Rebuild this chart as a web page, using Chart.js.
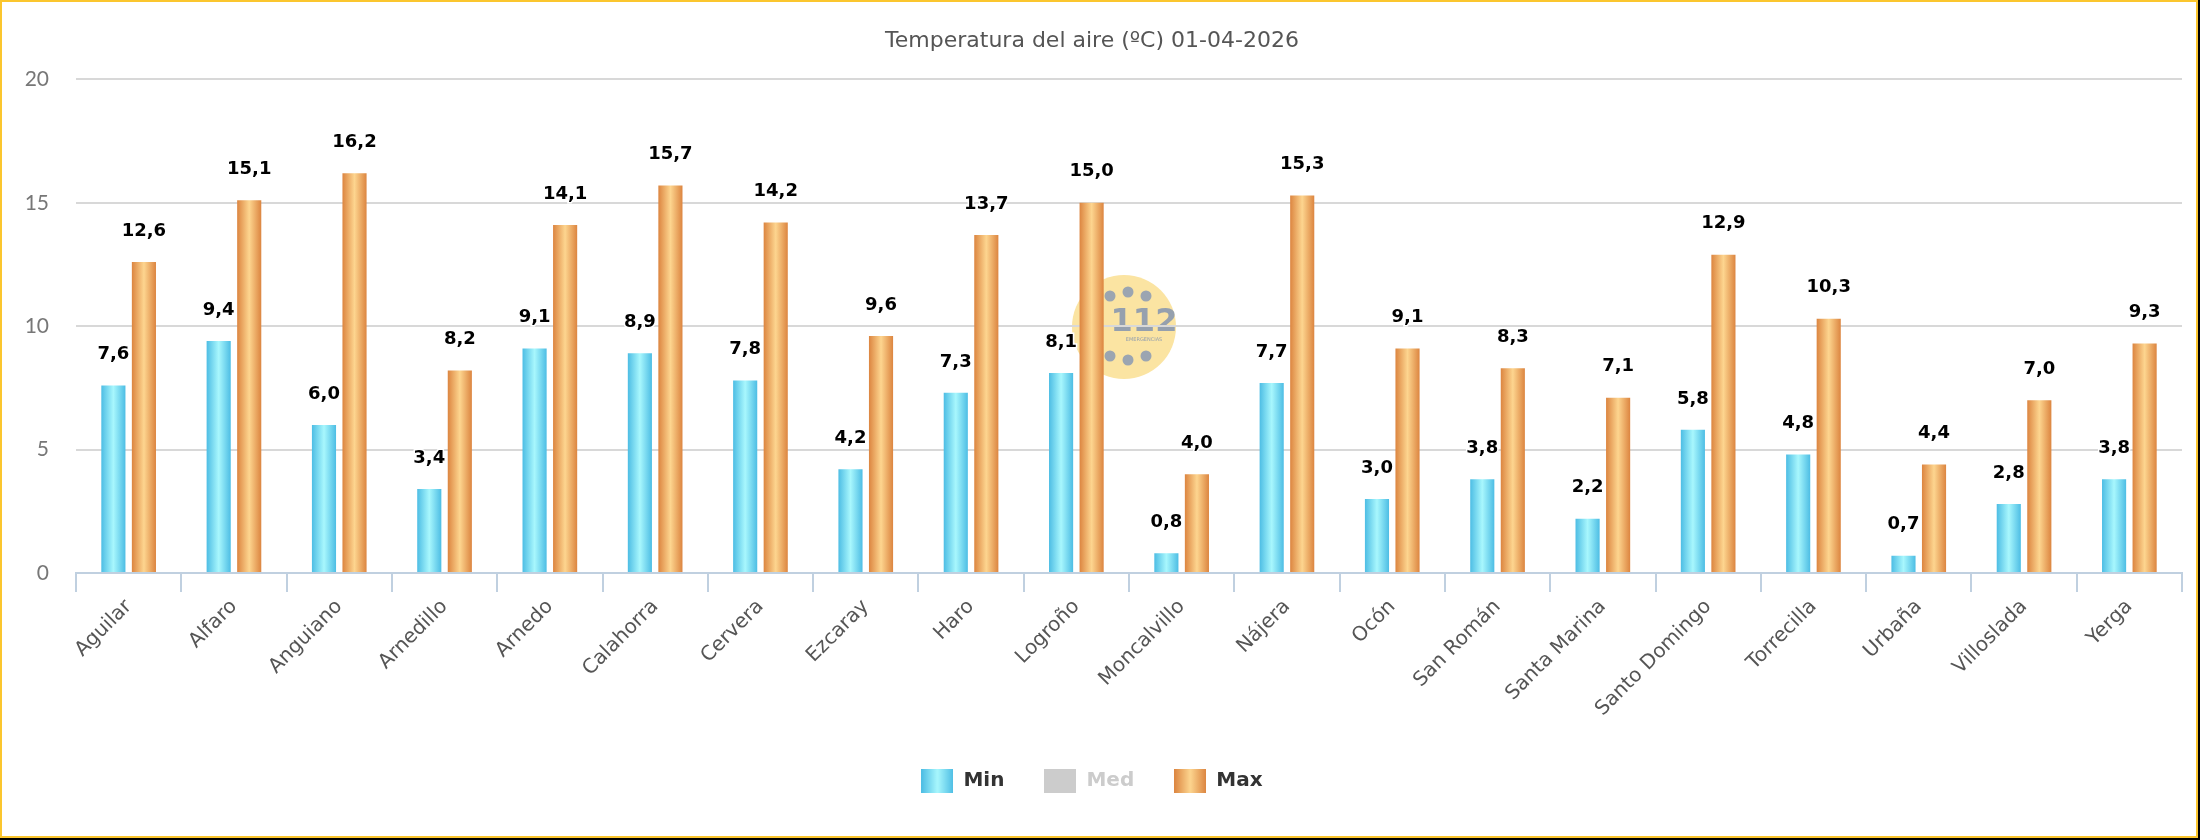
<!DOCTYPE html>
<html>
<head>
<meta charset="utf-8">
<script src="https://cdn.jsdelivr.net/npm/chart.js@4.4.1/dist/chart.umd.min.js"></script>
<style>
  html, body { margin: 0; padding: 0; background: #000; }
  #marco { position: absolute; left: 0; top: 0; width: 2198px; height: 838px; box-sizing: border-box; border: 2px solid #fbc62e; background: #fff; }
  #grafico { display: block; }
</style>
</head>
<body>
<div id="marco"><canvas id="grafico" width="2194" height="834"></canvas></div>
<script>
// DATOS
const estaciones = ["Aguilar", "Alfaro", "Anguiano", "Arnedillo", "Arnedo", "Calahorra", "Cervera", "Ezcaray", "Haro", "Logroño",
    "Moncalvillo", "Nájera", "Ocón", "San Román", "Santa Marina", "Santo Domingo", "Torrecilla", "Urbaña", "Villoslada", "Yerga"];
const tempMin = [7.6, 9.4, 6.0, 3.4, 9.1, 8.9, 7.8, 4.2, 7.3, 8.1, 0.8, 7.7, 3.0, 3.8, 2.2, 5.8, 4.8, 0.7, 2.8, 3.8];
const tempMed = []; // serie oculta en el original, sin valores visibles
const tempMax = [12.6, 15.1, 16.2, 8.2, 14.1, 15.7, 14.2, 9.6, 13.7, 15.0, 4.0, 15.3, 9.1, 8.3, 7.1, 12.9, 10.3, 4.4, 7.0, 9.3];
const ticksY = [0, 5, 10, 15, 20];

function degradado(ctx, x0, x1, borde, centro) {
    const g = ctx.createLinearGradient(x0, 0, x1, 0);
    g.addColorStop(0, borde);
    g.addColorStop(0.5, centro);
    g.addColorStop(1, borde);
    return g;
}

// muestra de la leyenda (canvas pequeño)
function muestra(borde, centro) {
    const c = document.createElement("canvas");
    c.width = 32;
    c.height = 24;
    const cx = c.getContext("2d");
    cx.fillStyle = centro ? degradado(cx, 0, 32, borde, centro) : borde;
    cx.fillRect(0, 0, 32, 24);
    return c;
}

// fondo blanco + logo 112 de marca de agua
const pluginFondo = {
    id: "fondo",
    beforeDraw(chart) {
        const ctx = chart.ctx;
        ctx.save();
        ctx.fillStyle = "#fff";
        ctx.fillRect(0, 0, chart.width, chart.height);
        ctx.fillStyle = "#fbe4a2";
        ctx.beginPath();
        ctx.arc(1122, 325, 52, 0, Math.PI * 2);
        ctx.fill();
        ctx.fillStyle = "#9ba5b1";
        [[1108, 294], [1126, 290], [1144, 294], [1108, 354], [1126, 358], [1144, 354]].forEach(p => {
            ctx.beginPath();
            ctx.arc(p[0], p[1], 5.5, 0, Math.PI * 2);
            ctx.fill();
        });
        ctx.fillStyle = "#95a0ae";
        ctx.textAlign = "center";
        ctx.textBaseline = "middle";
        ctx.font = "bold 32px 'DejaVu Sans'";
        ctx.fillText("112", 1142, 321);
        ctx.font = "5px 'DejaVu Sans'";
        ctx.fillText("EMERGENCIAS", 1142, 338);
        ctx.restore();
    }
};

// degradado horizontal en cada barra
const pluginDegradado = {
    id: "degradado",
    beforeDatasetsDraw(chart) {
        const ctx = chart.ctx;
        chart.data.datasets.forEach((ds, i) => {
            if (!chart.isDatasetVisible(i)) return;
            chart.getDatasetMeta(i).data.forEach(bar => {
                const x0 = bar.x - bar.width / 2;
                const g = degradado(ctx, x0, x0 + bar.width, ds.colorBorde, ds.colorCentro);
                bar.options = Object.assign({}, bar.options, { backgroundColor: g });
            });
        });
    }
};

// etiquetas de valor encima de las barras
const pluginEtiquetas = {
    id: "etiquetas",
    afterDatasetsDraw(chart) {
        const ctx = chart.ctx;
        ctx.save();
        ctx.font = "bold 18px 'DejaVu Sans'";
        ctx.textAlign = "center";
        ctx.textBaseline = "middle";
        ctx.lineWidth = 3;
        ctx.strokeStyle = "#fff";
        ctx.fillStyle = "#000";
        chart.data.datasets.forEach((ds, i) => {
            if (!chart.isDatasetVisible(i)) return;
            chart.getDatasetMeta(i).data.forEach((bar, j) => {
                const txt = ds.data[j].toFixed(1).replace(".", ",");
                ctx.strokeText(txt, bar.x, bar.y - 31);
                ctx.fillText(txt, bar.x, bar.y - 31);
            });
        });
        ctx.restore();
    }
};

const chart = new Chart(document.getElementById("grafico"), {
    type: "bar",
    data: {
        labels: estaciones,
        datasets: [
            { label: "Min", data: tempMin, colorBorde: "#4dbde4", colorCentro: "#a8f7fd", backgroundColor: "#4dbde4", muestra: muestra("#4dbde4", "#a8f7fd") },
            { label: "Med", data: tempMed, hidden: true, colorBorde: "#cccccc", backgroundColor: "#cccccc", muestra: muestra("#cccccc") },
            { label: "Max", data: tempMax, colorBorde: "#dc8540", colorCentro: "#fdd58f", backgroundColor: "#dc8540", muestra: muestra("#dc8540", "#fdd58f") }
        ]
    },
    options: {
        responsive: false,
        animation: false,
        devicePixelRatio: 1,
        categoryPercentage: 0.58,
        barPercentage: 0.79,
        layout: { padding: { left: 0, right: 14, top: 0, bottom: 35 } },
        plugins: {
            title: {
                display: true,
                text: "Temperatura del aire (ºC) 01-04-2026",
                color: "#555",
                font: { family: "DejaVu Sans", size: 22, weight: "normal" },
                padding: { top: 26, bottom: 25 }
            },
            legend: {
                position: "bottom",
                labels: {
                    usePointStyle: true,
                    pointStyleWidth: 32,
                    padding: 40,
                    font: { family: "DejaVu Sans", size: 20, weight: "bold" },
                    generateLabels(chart) {
                        return chart.data.datasets.map((ds, i) => ({
                            text: ds.label,
                            pointStyle: ds.muestra,
                            fontColor: chart.isDatasetVisible(i) ? "#333" : "#cccccc",
                            hidden: false,
                            datasetIndex: i,
                            lineWidth: 0,
                            strokeStyle: "rgba(0,0,0,0)",
                            fillStyle: "rgba(0,0,0,0)"
                        }));
                    }
                }
            },
            tooltip: { enabled: false }
        },
        scales: {
            x: {
                grid: { drawOnChartArea: false, drawTicks: true, tickLength: 19, color: "#c0d0e0", lineWidth: 2 },
                border: { display: true, color: "#c0d0e0", width: 2 },
                ticks: {
                    autoSkip: false,
                    minRotation: 45,
                    maxRotation: 45,
                    padding: 3,
                    color: "#555",
                    font: { family: "DejaVu Sans", size: 20 }
                },
                afterFit(s) { s.height = 158; }
            },
            y: {
                min: 0,
                max: 20,
                grid: { color: "#d8d8d8", lineWidth: 2, drawTicks: false },
                border: { display: false },
                ticks: {
                    padding: 27,
                    color: "#777",
                    font: { family: "Lato", size: 21 }
                },
                afterBuildTicks(s) { s.ticks = ticksY.map(v => ({ value: v })); },
                afterFit(s) { s.width = 74; }
            }
        }
    },
    plugins: [pluginFondo, pluginDegradado, pluginEtiquetas]
});
</script>
</body>
</html>
